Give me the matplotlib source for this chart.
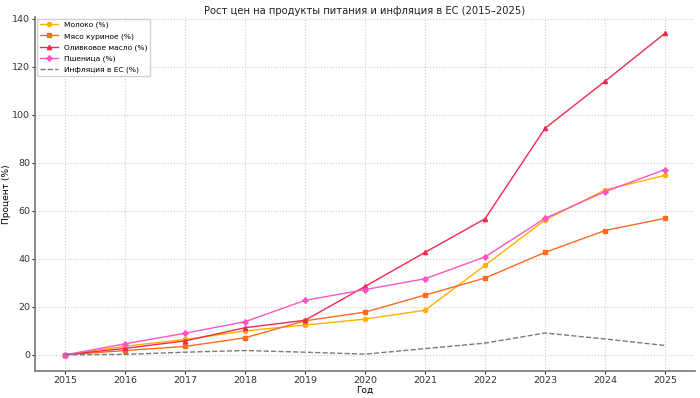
import matplotlib
matplotlib.use("Agg")
import matplotlib.pyplot as plt

years = [2015, 2016, 2017, 2018, 2019, 2020, 2021, 2022, 2023, 2024, 2025]
milk = [0, 3.6, 6.4, 10.0, 12.4, 14.9, 18.6, 37.3, 56.2, 68.7, 74.8]
chicken = [0, 1.8, 3.5, 7.1, 14.2, 17.8, 24.9, 32.0, 42.7, 51.8, 56.9]
olive = [0, 2.7, 5.8, 11.3, 14.4, 28.5, 42.7, 56.7, 94.4, 114.0, 134.0]
wheat = [0, 4.6, 9.0, 13.8, 22.7, 27.2, 31.7, 40.8, 56.9, 68.0, 77.2]
inflation = [0, 0.2, 1.1, 1.8, 1.1, 0.3, 2.6, 4.9, 9.1, 6.6, 3.9]

fig = plt.figure(figsize=(7, 3.98), dpi=100)
ax = fig.add_axes([0.05, 0.068, 0.943, 0.889])

ax.plot(years, milk, marker='o', markersize=3, lw=1.0, color='#FFB000', label='Молоко (%)')
ax.plot(years, chicken, marker='s', markersize=3, lw=1.0, color='#FF6A1F', label='Мясо куриное (%)')
ax.plot(years, olive, marker='^', markersize=3, lw=1.0, color='#EE2A4F', label='Оливковое масло (%)')
ax.plot(years, wheat, marker='P', markersize=3.5, lw=1.0, color='#FF55C4', label='Пшеница (%)')
ax.plot(years, inflation, ls='--', lw=1.0, color='#7a7a7a', label='Инфляция в ЕС (%)')

ax.set_xticks(years)
ax.set_yticks(range(0, 141, 20))
ax.tick_params(labelsize=6.8, colors='#333333', length=2, pad=1.5)
ax.grid(True, ls=':', color='#cccccc', lw=0.8)
for s in ['top', 'right']:
    ax.spines[s].set_visible(False)
for s in ['left', 'bottom']:
    ax.spines[s].set_color('#777777')
    ax.spines[s].set_linewidth(1.2)

ax.set_title('Рост цен на продукты питания и инфляция в ЕС (2015–2025)', fontsize=7.2, color='#222222', pad=2)
ax.set_xlabel('Год', fontsize=6.5, labelpad=0.5)
ax.set_ylabel('Процент (%)', fontsize=6.5, labelpad=1)
ax.legend(loc='upper left', fontsize=5.4, framealpha=0.9, handlelength=2.4,
          borderaxespad=0.2, labelspacing=0.6)

fig.savefig('out.png', dpi=100)
